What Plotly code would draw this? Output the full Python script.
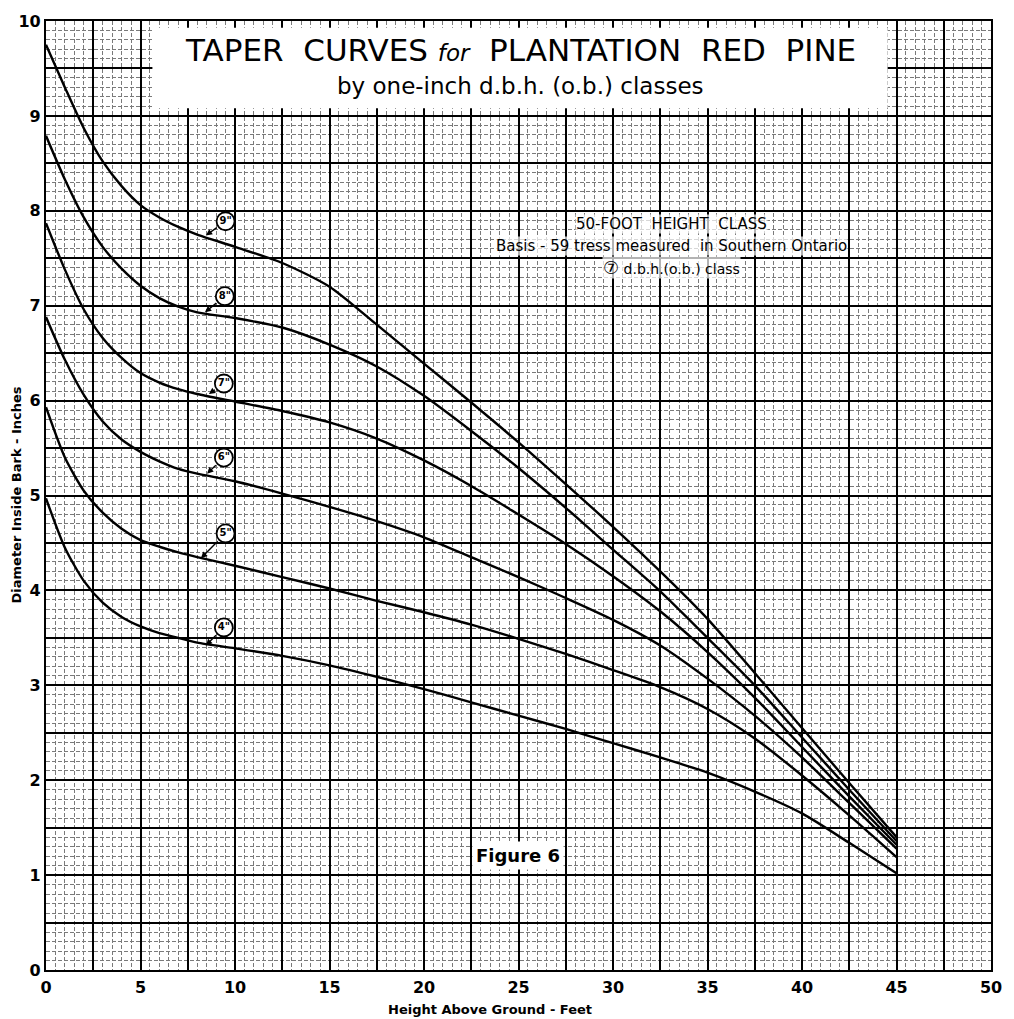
import plotly.graph_objects as go

# ---------------- data ----------------
height_ft = [0, 1, 2, 3, 4, 5, 6, 7, 8, 10, 12.5, 15, 17.5, 20, 22.5, 25,
             27.5, 30, 32.5, 35, 37.5, 40, 42.5, 45]

dib_9in = [9.75, 9.30, 8.87, 8.52, 8.26, 8.06, 7.93, 7.83, 7.75, 7.62, 7.45, 7.20,
           6.80, 6.39, 5.98, 5.56, 5.12, 4.67, 4.20, 3.70, 3.13, 2.55, 1.97, 1.40]
dib_8in = [8.79, 8.33, 7.93, 7.62, 7.39, 7.21, 7.08, 6.99, 6.93, 6.87, 6.77, 6.59,
           6.36, 6.05, 5.68, 5.29, 4.87, 4.43, 3.99, 3.50, 3.00, 2.45, 1.90, 1.36]
dib_7in = [7.87, 7.38, 6.96, 6.66, 6.45, 6.29, 6.19, 6.12, 6.07, 5.99, 5.89, 5.77,
           5.60, 5.37, 5.10, 4.80, 4.49, 4.15, 3.78, 3.35, 2.87, 2.35, 1.83, 1.32]
dib_6in = [6.88, 6.43, 6.06, 5.78, 5.59, 5.46, 5.36, 5.28, 5.23, 5.15, 5.02, 4.88,
           4.73, 4.56, 4.35, 4.14, 3.92, 3.69, 3.42, 3.07, 2.68, 2.24, 1.76, 1.28]
dib_5in = [5.93, 5.40, 5.05, 4.82, 4.65, 4.53, 4.46, 4.40, 4.35, 4.26, 4.14, 4.02,
           3.89, 3.77, 3.64, 3.49, 3.33, 3.16, 2.98, 2.75, 2.44, 2.05, 1.63, 1.19]
dib_4in = [4.97, 4.45, 4.10, 3.87, 3.72, 3.62, 3.55, 3.50, 3.45, 3.39, 3.31, 3.21,
           3.09, 2.96, 2.82, 2.68, 2.54, 2.39, 2.24, 2.08, 1.88, 1.65, 1.34, 1.02]

series = [dib_9in, dib_8in, dib_7in, dib_6in, dib_5in, dib_4in]
class_labels = ['9"', '8"', '7"', '6"', '5"', '4"']
label_x = [9.5, 9.46, 9.41, 9.41, 9.5, 9.41]
label_y = [7.89, 7.10, 6.18, 5.40, 4.60, 3.61]
tip_x = [8.46, 8.41, 8.62, 8.52, 8.20, 8.46]
tip_y = [7.74, 6.93, 6.07, 5.23, 4.34, 3.42]

x_tick_vals = [i * 2.5 for i in range(21)]
x_tick_text = [str(int(v)) if v % 5 == 0 else '' for v in x_tick_vals]
y_tick_vals = [i * 0.5 for i in range(21)]
y_tick_text = [str(int(v)) if v % 1 == 0 else '' for v in y_tick_vals]

FONT = "DejaVu Sans"

fig = go.Figure()
for vals in series:
    fig.add_trace(go.Scatter(x=height_ft, y=vals, mode='lines',
                             line=dict(color='black', width=2.4, shape='spline', smoothing=0.7),
                             hoverinfo='skip', showlegend=False))

fig.add_trace(go.Scatter(x=label_x, y=label_y, mode='markers+text', text=class_labels,
                         textposition='middle center',
                         textfont=dict(family=FONT, size=10, color='black', weight='bold'),
                         marker=dict(symbol='circle', size=18, color='white',
                                     line=dict(color='black', width=1.8)),
                         hoverinfo='skip', showlegend=False))

annotations = []
for lx, ly, tx, ty in zip(label_x, label_y, tip_x, tip_y):
    annotations.append(dict(x=tx, y=ty, ax=lx, ay=ly, xref='x', yref='y',
                            axref='x', ayref='y', text='', showarrow=True,
                            arrowhead=2, arrowsize=0.9, arrowwidth=1.4,
                            arrowcolor='black', startstandoff=9, standoff=0))

# title
annotations.append(dict(x=25.13, y=9.69, xref='x', yref='y', showarrow=False,
                        text='TAPER&nbsp; CURVES <i><span style="font-size:23px">for</span></i>&nbsp; PLANTATION&nbsp; RED&nbsp; PINE',
                        font=dict(family=FONT, size=31, color='black')))
annotations.append(dict(x=25.13, y=9.31, xref='x', yref='y', showarrow=False,
                        text='by one-inch d.b.h. (o.b.) classes',
                        font=dict(family=FONT, size=23, color='black')))

# info block
info_lines = ['50-FOOT&nbsp; HEIGHT&nbsp; CLASS',
              'Basis - 59 tress measured&nbsp; in Southern Ontario',
              '<span style="font-size:18px">\u2466</span> d.b.h.(o.b.) class']
info_size = [15, 15, 14]
info_y = [7.86, 7.63, 7.40]
for t, yy, sz in zip(info_lines, info_y, info_size):
    annotations.append(dict(x=33.07, y=yy, xref='x', yref='y', showarrow=False, text=t,
                            bgcolor='rgba(255,255,255,0.7)', borderpad=0,
                            font=dict(family=FONT, size=sz, color='black')))

annotations.append(dict(x=24.95, y=1.21, xref='x', yref='y', showarrow=False,
                        text='Figure 6', bgcolor='white', borderpad=3,
                        font=dict(family=FONT, size=18, color='black', weight='bold')))

# axis titles
annotations.append(dict(x=23.5, y=0, xref='x', yref='paper', yshift=-39, showarrow=False,
                        yanchor='middle',
                        text='Height Above Ground - Feet',
                        font=dict(family=FONT, size=13, color='black', weight='bold')))
annotations.append(dict(x=0, y=0.5, xref='paper', yref='paper', xshift=-30, showarrow=False,
                        xanchor='center',
                        text='Diameter Inside Bark - Inches', textangle=-90,
                        font=dict(family=FONT, size=13, color='black', weight='bold')))

shapes = [dict(type='rect', xref='x', yref='y', x0=5.63, x1=44.53, y0=9.08, y1=9.93,
               fillcolor='white', line=dict(width=0), layer='between')]

fig.update_layout(
    width=1014, height=1019,
    margin=dict(l=46, r=17, t=20, b=49),
    plot_bgcolor='white', paper_bgcolor='white',
    annotations=annotations, shapes=shapes,
    showlegend=False,
    xaxis=dict(range=[0, 50], tickmode='array', tickvals=x_tick_vals, ticktext=x_tick_text,
               showgrid=True, gridcolor='black', gridwidth=1.5,
               minor=dict(dtick=0.5, tick0=0, showgrid=True, gridcolor='#7a7a7a',
                          gridwidth=0.6, griddash='4px,2px'),
               showline=True, linecolor='black', linewidth=2.2, mirror=True,
               ticks='', zeroline=False, ticklabelstandoff=2,
               tickfont=dict(family=FONT, size=16, color='black', weight='bold')),
    yaxis=dict(range=[0, 10], tickmode='array', tickvals=y_tick_vals, ticktext=y_tick_text,
               showgrid=True, gridcolor='black', gridwidth=1.5,
               minor=dict(dtick=0.1, tick0=0, showgrid=True, gridcolor='#7a7a7a',
                          gridwidth=0.6, griddash='4px,2px'),
               showline=True, linecolor='black', linewidth=2.2, mirror=True,
               ticks='', zeroline=False,
               tickfont=dict(family=FONT, size=16, color='black', weight='bold')),
)

fig.write_html("out.html")
